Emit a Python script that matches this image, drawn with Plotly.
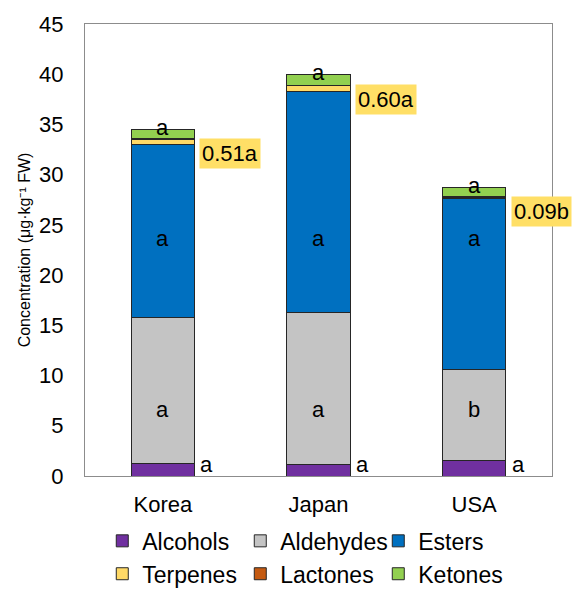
import plotly.graph_objects as go

# Volatile compound classes by origin (µg·kg⁻¹ FW)
origins = ["Korea", "Japan", "USA"]
alcohols = [1.27, 1.17, 1.56]
aldehydes = [14.48, 15.13, 9.04]
esters = [17.29, 21.96, 17.00]
terpenes = [0.51, 0.60, 0.09]
lactones = [0.04, 0.04, 0.12]
ketones = [0.95, 1.12, 0.90]

# significance letters per class
alcohol_letters = ["a", "a", "a"]
aldehyde_letters = ["a", "a", "b"]
ester_letters = ["a", "a", "a"]
terpene_letters = ["a", "a", "b"]
ketone_letters = ["a", "a", "a"]

series = [
    ("Alcohols", alcohols, "#7030A0"),
    ("Aldehydes", aldehydes, "#C4C4C4"),
    ("Esters", esters, "#0070C0"),
    ("Terpenes", terpenes, "#FFD966"),
    ("Lactones", lactones, "#C55A11"),
    ("Ketones", ketones, "#92D050"),
]

FONT = "Liberation Sans, Arial, sans-serif"

fig = go.Figure()
for name, vals, color in series:
    fig.add_trace(go.Bar(
        x=origins, y=vals, name=name,
        marker=dict(color=color, line=dict(color="#262626", width=1)),
    ))

# running totals for label placement
ald_top = [a + b for a, b in zip(alcohols, aldehydes)]
est_top = [t + e for t, e in zip(ald_top, esters)]
terp_top = [t + e for t, e in zip(est_top, terpenes)]
total = [t + l + k for t, l, k in zip(terp_top, lactones, ketones)]

annotations = []
txt = dict(family=FONT, size=22, color="#000000")
for i, cat in enumerate(origins):
    # alcohols: letter beside the bar base
    annotations.append(dict(x=cat, y=1.15, text=alcohol_letters[i], showarrow=False,
                            xshift=44, yanchor="middle", font=txt))
    # aldehydes
    annotations.append(dict(x=cat, y=6.6, text=aldehyde_letters[i], showarrow=False,
                            yanchor="middle", font=txt))
    # esters
    annotations.append(dict(x=cat, y=23.6, text=ester_letters[i], showarrow=False,
                            yanchor="middle", font=txt))
    # ketones: letter on the bar top
    annotations.append(dict(x=cat, y=total[i], text=ketone_letters[i], showarrow=False,
                            yanchor="middle", yshift=2, font=txt))
    # terpenes: value with letter on a highlighted box
    annotations.append(dict(x=cat, y=terp_top[i], text=f"{terpenes[i]:.2f}{terpene_letters[i]}",
                            showarrow=False, xshift=67, yshift=-14, yanchor="middle",
                            bgcolor="#FFDF66", borderpad=2, font=txt))

fig.update_layout(
    width=573, height=590,
    margin=dict(l=85, r=21, t=24, b=114, autoexpand=False),
    paper_bgcolor="white", plot_bgcolor="white",
    barmode="stack", bargap=0.595,
    font=dict(family=FONT, size=22, color="#000000"),
    annotations=annotations,
    showlegend=True,
    legend=dict(
        orientation="h", x=0.037, y=-0.096, xanchor="left", yanchor="top",
        font=dict(family=FONT, size=23, color="#000000"),
        entrywidth=93, entrywidthmode="pixels", traceorder="normal",
        itemclick=False, tracegroupgap=0,
    ),
    xaxis=dict(
        range=[-0.5, 2.5], autorange=False,
        showline=True, linecolor="#8C8C8C", linewidth=1.3, mirror=True,
        ticks="", showgrid=False, ticklabelstandoff=8,
        tickfont=dict(family=FONT, size=22, color="#000000"),
    ),
    yaxis=dict(
        range=[0, 45], dtick=5, tick0=0,
        showline=True, linecolor="#8C8C8C", linewidth=1.3, mirror=True,
        ticks="", showgrid=False, zeroline=False, ticklabelstandoff=16,
        tickfont=dict(family=FONT, size=22, color="#000000"),
        title=dict(text="Concentration (μg·kg⁻¹ FW)", standoff=4,
                   font=dict(family=FONT, size=16, color="#000000")),
    ),
)

fig.write_html("out.html")
